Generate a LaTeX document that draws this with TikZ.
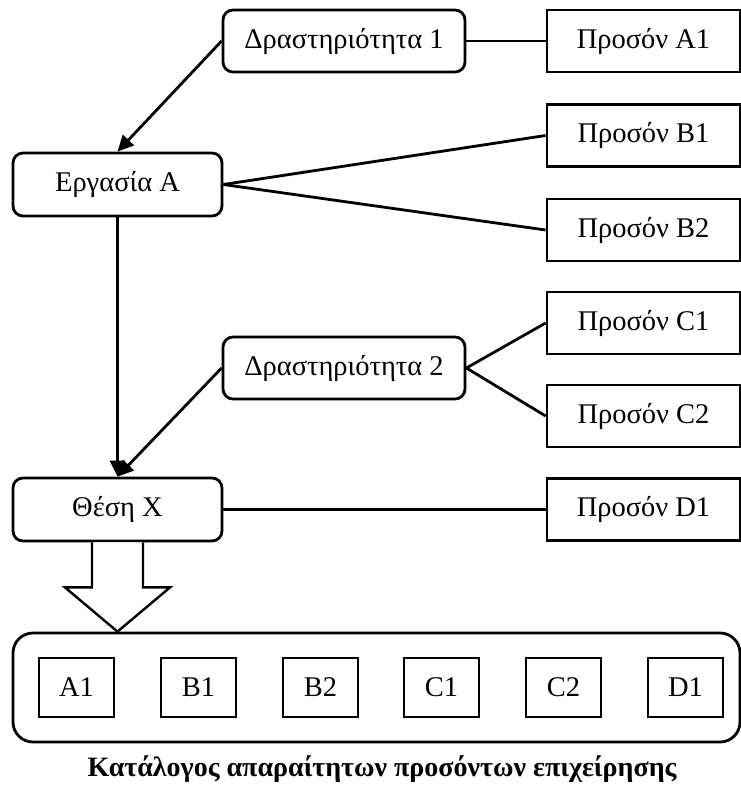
\documentclass[tikz,border=0pt]{standalone}
\usepackage{fontspec}
\setmainfont{Liberation Serif}
\usetikzlibrary{arrows.meta,calc}

\tikzset{
  base/.style={draw, line width=2.8pt, inner sep=0pt, align=center,
    font=\fontsize{28.5}{31}\selectfont},
  roundbox/.style={base, rounded corners=10pt, minimum width=242pt, minimum height=62pt},
  taskbox/.style={base, rounded corners=10pt, minimum width=209pt, minimum height=63pt},
  skillbox/.style={base, minimum width=193pt, minimum height=62pt},
  itembox/.style={base, minimum width=75pt, minimum height=59pt},
  link/.style={line width=2.8pt},
  flow/.style={line width=2.8pt, -{Triangle[length=16pt,width=15pt]}},
}

\begin{document}
\begin{tikzpicture}[x=1pt,y=-1pt]
\useasboundingbox (0,0) rectangle (741,787);

% activities, tasks and positions
\node[roundbox] (act1) at (344,41) {Δραστηριότητα 1};
\node[taskbox]  (taskA) at (117.5,184.5) {Εργασία A};
\node[roundbox] (act2) at (344,368) {Δραστηριότητα 2};
\node[taskbox]  (posX) at (117.5,509.5) {Θέση X};

% required skills
\node[skillbox] (sA1) at (643.5,41) {Προσόν A1};
\node[skillbox] (sB1) at (643.5,135.5) {Προσόν B1};
\node[skillbox] (sB2) at (643.5,230) {Προσόν B2};
\node[skillbox] (sC1) at (643.5,323) {Προσόν C1};
\node[skillbox] (sC2) at (643.5,416) {Προσόν C2};
\node[skillbox] (sD1) at (643.5,509.5) {Προσόν D1};

% links to skills
\draw[link] (act1.east) -- (sA1.west);
\draw[link] (taskA.east) -- (sB1.west);
\draw[link] (taskA.east) -- (sB2.west);
\draw[link] (act2.east) -- (sC1.west);
\draw[link] (act2.east) -- (sC2.west);
\draw[link] (posX.east) -- (sD1.west);

% flow arrows
\draw[flow] (act1.west) -- (taskA.north);
\draw[flow] (taskA.south) -- (posX.north);
\draw[flow] (act2.west) -- (posX.north);

% skills catalogue
\node[draw, line width=2.8pt, rounded corners=20pt, minimum width=727pt,
      minimum height=109pt, inner sep=0pt] (list) at (376.5,687.5) {};
\node[itembox] (iA1) at (76.5,687.5) {A1};
\node[itembox] (iB1) at (198.5,687.5) {B1};
\node[itembox] (iB2) at (320.5,687.5) {B2};
\node[itembox] (iC1) at (441.5,687.5) {C1};
\node[itembox] (iC2) at (563.5,687.5) {C2};
\node[itembox] (iD1) at (685.5,687.5) {D1};

% hollow block arrow into the catalogue
\coordinate (tip) at (list.north -| posX.south);
\draw[line width=2.4pt, line join=miter, fill=white]
  ($(posX.south)+(-25.5,0)$) -- ++(0,45) -- ++(-27,0) -- (tip)
  -- ($(posX.south)+(52.5,45)$) -- ++(-27,0) -- ($(posX.south)+(25.5,0)$);

\node[font=\fontsize{28}{31}\selectfont\bfseries] (caption) at (382,769)
  {Κατάλογος απαραίτητων προσόντων επιχείρησης};
\end{tikzpicture}
\end{document}
